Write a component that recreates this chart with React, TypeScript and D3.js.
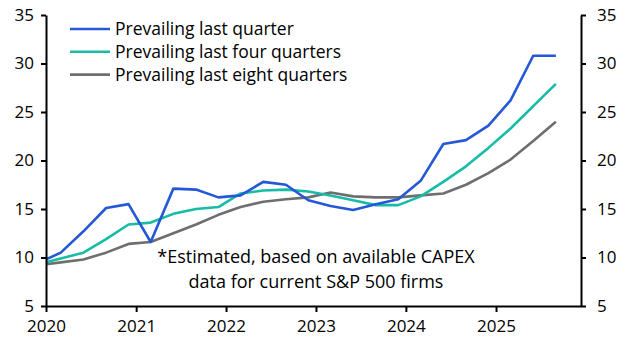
import * as d3 from "d3";
import React, { useEffect, useRef } from "react";

// quarterly observations (first point sits on the start of 2020)
const dates = [
  "2020-01", "2020-03", "2020-06", "2020-09", "2020-12",
  "2021-03", "2021-06", "2021-09", "2021-12",
  "2022-03", "2022-06", "2022-09", "2022-12",
  "2023-03", "2023-06", "2023-09", "2023-12",
  "2024-03", "2024-06", "2024-09", "2024-12",
  "2025-03", "2025-06", "2025-09",
];

const lastQuarter = [
  9.8, 10.5, 12.7, 15.1, 15.5, 11.6, 17.1, 17.0, 16.2, 16.4, 17.8, 17.5, 15.9,
  15.3, 14.9, 15.5, 16.0, 17.9, 21.7, 22.1, 23.6, 26.2, 30.8, 30.8,
];
const lastFour = [
  9.5, 9.9, 10.5, 11.9, 13.4, 13.6, 14.5, 15.0, 15.2, 16.6, 16.9, 17.0, 16.8,
  16.4, 15.9, 15.4, 15.4, 16.3, 17.8, 19.4, 21.3, 23.3, 25.6, 27.9,
];
const lastEight = [
  9.3, 9.5, 9.8, 10.5, 11.4, 11.6, 12.5, 13.4, 14.4, 15.2, 15.75, 16.0, 16.2,
  16.7, 16.3, 16.2, 16.2, 16.4, 16.6, 17.5, 18.7, 20.1, 22.0, 24.0,
];

const seriesNames = [
  "Prevailing last quarter",
  "Prevailing last four quarters",
  "Prevailing last eight quarters",
];
const seriesColors = ["#2458d6", "#17bca6", "#6e6e6e"];
const yTicks = [5, 10, 15, 20, 25, 30, 35];
const xTickYears = [2020, 2021, 2022, 2023, 2024, 2025];
const note = ["*Estimated, based on available CAPEX", "data for current S&P 500 firms"];

const W = 629;
const H = 354;
const FONT = "'Open Sans', 'Noto Sans', sans-serif";

export default function App() {
  const ref = useRef<SVGSVGElement | null>(null);

  useEffect(() => {
    if (!ref.current) return;
    const svg = d3.select(ref.current);
    svg.selectAll("*").remove();

    const left = 46;
    const right = 581;
    const top = 15;
    const bottom = 306;

    const parse = d3.timeParse("%Y-%m");
    const x = d3
      .scaleTime()
      .domain([new Date(2020, 0, 1), new Date(2025, 11, 12)])
      .range([left, right]);
    const y = d3.scaleLinear().domain([5, 35]).range([bottom, top]);

    const series = [lastQuarter, lastFour, lastEight];
    const pts = dates.map((d) => parse(d)!);

    const line = d3
      .line<number>()
      .x((_, i) => x(pts[i]))
      .y((d) => y(d));

    // lines (gray first so blue sits on top)
    svg
      .append("g")
      .selectAll("path")
      .data([2, 1, 0])
      .join("path")
      .attr("d", (k) => line(series[k]))
      .attr("fill", "none")
      .attr("stroke", (k) => seriesColors[k])
      .attr("stroke-width", 2.6)
      .attr("stroke-linejoin", "round");

    // axes
    const axisStyle = (g: d3.Selection<SVGGElement, unknown, null, undefined>) => {
      g.select(".domain").attr("stroke", "#000").attr("stroke-width", 2);
      g.selectAll(".tick line").attr("stroke", "#000").attr("stroke-width", 2);
      g.selectAll(".tick text")
        .attr("fill", "#000")
        .style("font-family", FONT)
        .style("font-size", "17px");
    };

    svg
      .append("g")
      .attr("transform", `translate(${left},0)`)
      .call(d3.axisLeft(y).tickValues(yTicks).tickSize(5).tickSizeOuter(0).tickPadding(7))
      .call(axisStyle);

    svg
      .append("g")
      .attr("transform", `translate(${right},0)`)
      .call(d3.axisRight(y).tickValues(yTicks).tickSize(5).tickSizeOuter(0).tickPadding(11))
      .call(axisStyle);

    svg
      .append("g")
      .attr("transform", `translate(0,${bottom})`)
      .call(
        d3
          .axisBottom(x)
          .tickValues(xTickYears.map((yr) => new Date(yr, 0, 1)))
          .tickFormat((d) => d3.timeFormat("%Y")(d as Date))
          .tickSize(6)
          .tickSizeOuter(0)
          .tickPadding(8),
      )
      .call(axisStyle);

    // legend
    const legend = svg
      .append("g")
      .selectAll("g")
      .data(seriesNames)
      .join("g")
      .attr("transform", (_, i) => `translate(70,${29 + i * 22.8})`);
    legend
      .append("line")
      .attr("x2", 40)
      .attr("stroke", (_, i) => seriesColors[i])
      .attr("stroke-width", 2.6);
    legend
      .append("text")
      .attr("x", 45)
      .attr("dy", "0.35em")
      .style("font-family", FONT)
      .style("font-size", "17.5px")
      .attr("fill", "#000")
      .text((d) => d);

    // note
    svg
      .append("text")
      .attr("text-anchor", "middle")
      .style("font-family", FONT)
      .style("font-size", "18px")
      .attr("fill", "#000")
      .selectAll("tspan")
      .data(note)
      .join("tspan")
      .attr("x", 316)
      .attr("y", (_, i) => 263 + i * 25)
      .text((d) => d);
  }, []);

  return (
    <svg
      ref={ref}
      width={W}
      height={H}
      style={{ position: "absolute", left: 0, top: 0, background: "#fff" }}
    />
  );
}
